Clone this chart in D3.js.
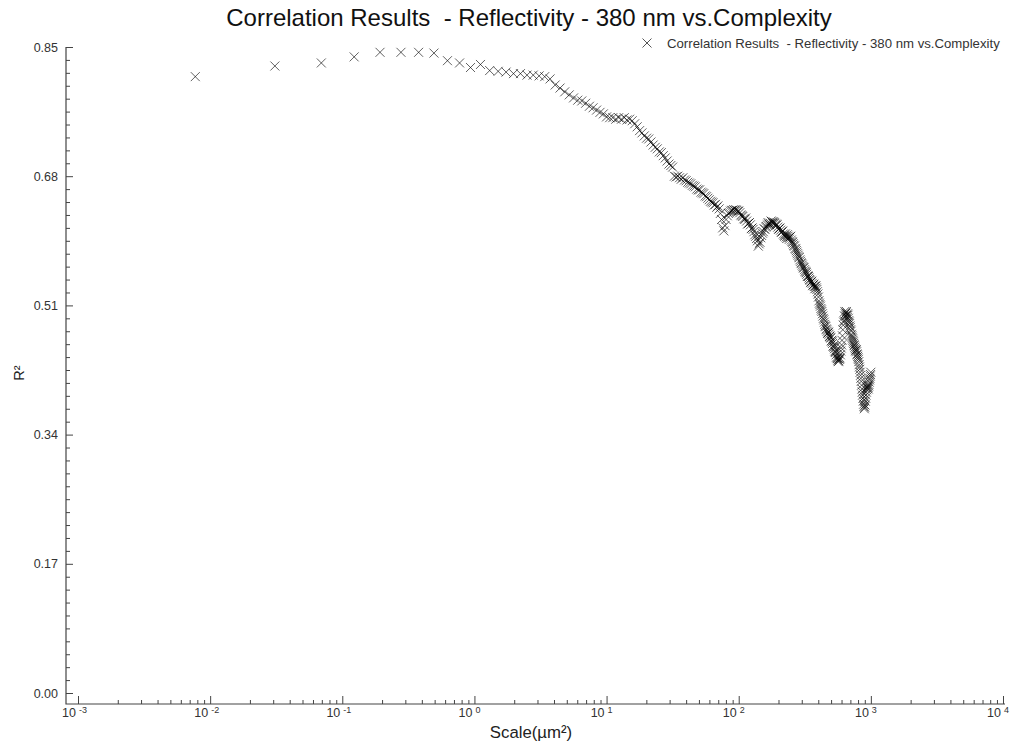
<!DOCTYPE html>
<html>
<head>
<meta charset="utf-8">
<script src="https://cdn.jsdelivr.net/npm/d3@7"></script>
<style>
  body { margin: 0; background: #fff; }
  text { font-family: "Liberation Sans", Arial, sans-serif; }
</style>
</head>
<body>
<div class="container"></div>
<script>
const chartTitle = "Correlation Results  - Reflectivity - 380 nm vs.Complexity";
const seriesName = "Correlation Results  - Reflectivity - 380 nm vs.Complexity";
const xLabel = "Scale(\u00b5m\u00b2)";
const yLabel = "R\u00b2";
const yTickValues = [0, 0.17, 0.34, 0.51, 0.68, 0.85];
const xExponents = [-3, -2, -1, 0, 1, 2, 3, 4];

// scale (µm²) of every sample
const scaleValues = [
  0.00772, 0.0309, 0.0694, 0.123, 0.193, 0.278, 0.378, 0.494, 0.625, 0.772,
  0.934, 1.111, 1.304, 1.512, 1.736, 1.975, 2.230, 2.500, 2.785, 3.086,
  3.403, 3.735, 4.082, 4.444, 4.823, 5.216, 5.625, 6.049, 6.489, 6.944,
  7.415, 7.901, 8.403, 8.920, 9.452, 10.00, 10.56, 11.14, 11.74, 12.35,
  12.97, 13.61, 14.27, 14.94, 15.63, 16.33, 17.04, 17.78, 18.53, 19.29,
  20.07, 20.86, 21.67, 22.50, 23.34, 24.20, 25.07, 25.96, 26.86, 27.78,
  28.71, 29.66, 30.63, 31.60, 32.60, 33.61, 34.64, 35.68, 36.74, 37.81,
  38.90, 40.00, 41.12, 42.25, 43.40, 44.57, 45.75, 46.94, 48.15, 49.38,
  50.63, 51.88, 53.16, 54.44, 55.75, 57.07, 58.40, 59.75, 61.12, 62.50,
  63.90, 65.31, 66.74, 68.18, 69.64, 71.11, 72.60, 74.10, 75.63, 77.16,
  78.71, 80.28, 81.86, 83.46, 85.07, 86.70, 88.34, 90.00, 91.67, 93.36,
  95.07, 96.79, 98.53, 100.3, 102.0, 103.8, 105.6, 107.4, 109.3, 111.1,
  113.0, 114.8, 116.7, 118.6, 120.6, 122.5, 124.5, 126.4, 128.4, 130.4,
  132.4, 134.4, 136.5, 138.5, 140.6, 142.7, 144.8, 146.9, 149.1, 151.2,
  153.4, 155.6, 157.8, 160.0, 162.2, 164.5, 166.7, 169.0, 171.3, 173.6,
  175.9, 178.3, 180.6, 183.0, 185.4, 187.8, 190.2, 192.6, 195.1, 197.5,
  200.0, 202.5, 205.0, 207.5, 210.1, 212.6, 215.2, 217.8, 220.4, 223.0,
  225.6, 228.3, 230.9, 233.6, 236.3, 239.0, 241.7, 244.5, 247.2, 250.0,
  252.8, 255.6, 258.4, 261.2, 264.1, 266.9, 269.8, 272.7, 275.6, 278.5,
  281.5, 284.4, 287.4, 290.4, 293.4, 296.4, 299.5, 302.5, 305.6, 308.6,
  311.7, 314.8, 318.0, 321.1, 324.3, 327.4, 330.6, 333.8, 337.0, 340.3,
  343.5, 346.8, 350.1, 353.4, 356.7, 360.0, 363.3, 366.7, 370.1, 373.5,
  376.9, 380.3, 383.7, 387.2, 390.6, 394.1, 397.6, 401.1, 404.6, 408.2,
  411.7, 415.3, 418.9, 422.5, 426.1, 429.8, 433.4, 437.1, 440.7, 444.4,
  448.2, 451.9, 455.6, 459.4, 463.2, 466.9, 470.7, 474.6, 478.4, 482.3,
  486.1, 490.0, 493.9, 497.8, 501.7, 505.7, 509.6, 513.6, 517.6, 521.6,
  525.6, 529.7, 533.7, 537.8, 541.9, 546.0, 550.1, 554.2, 558.3, 562.5,
  566.7, 570.9, 575.1, 579.3, 583.5, 587.8, 592.0, 596.3, 600.6, 604.9,
  609.3, 613.6, 618.0, 622.3, 626.7, 631.1, 635.6, 640.0, 644.4, 648.9,
  653.4, 657.9, 662.4, 667.0, 671.5, 676.0, 680.6, 685.2, 689.8, 694.4,
  699.1, 703.7, 708.4, 713.1, 717.8, 722.5, 727.2, 732.0, 736.7, 741.5,
  746.3, 751.1, 755.9, 760.8, 765.6, 770.5, 775.4, 780.3, 785.2, 790.1,
  795.1, 800.0, 805.0, 810.0, 815.0, 820.0, 825.1, 830.1, 835.2, 840.3,
  845.4, 850.5, 855.6, 860.8, 865.9, 871.1, 876.3, 881.5, 886.7, 892.0,
  897.2, 902.5, 907.8, 913.1, 918.4, 923.7, 929.1, 934.4, 939.8, 945.2,
  950.6, 956.1, 961.5, 967.0, 972.4, 977.9, 983.4, 988.9, 994.4, 1000
];

// R² of every sample
const r2Values = [
  0.811, 0.825, 0.829, 0.837, 0.843, 0.843, 0.843, 0.842, 0.832, 0.829,
  0.823, 0.827, 0.819, 0.818, 0.817, 0.815, 0.815, 0.813, 0.813, 0.812,
  0.811, 0.808, 0.800, 0.796, 0.791, 0.787, 0.783, 0.780, 0.779, 0.776,
  0.772, 0.770, 0.767, 0.764, 0.762, 0.758, 0.757, 0.757, 0.755, 0.757,
  0.755, 0.757, 0.754, 0.755, 0.753, 0.749, 0.745, 0.740, 0.737, 0.733,
  0.730, 0.729, 0.725, 0.721, 0.718, 0.716, 0.712, 0.711, 0.707, 0.704,
  0.700, 0.696, 0.694, 0.692, 0.680, 0.679, 0.680, 0.678, 0.676, 0.678,
  0.675, 0.674, 0.672, 0.671, 0.670, 0.668, 0.667, 0.666, 0.663, 0.662,
  0.662, 0.659, 0.658, 0.657, 0.654, 0.653, 0.651, 0.649, 0.647, 0.646,
  0.645, 0.642, 0.643, 0.639, 0.641, 0.637, 0.631, 0.623, 0.612, 0.608,
  0.615, 0.623, 0.628, 0.631, 0.632, 0.634, 0.635, 0.635, 0.636, 0.635,
  0.636, 0.635, 0.634, 0.634, 0.632, 0.629, 0.628, 0.627, 0.624, 0.623,
  0.625, 0.621, 0.617, 0.618, 0.619, 0.616, 0.611, 0.612, 0.610, 0.607,
  0.603, 0.601, 0.598, 0.595, 0.588, 0.591, 0.593, 0.599, 0.602, 0.605,
  0.607, 0.611, 0.610, 0.613, 0.614, 0.616, 0.619, 0.617, 0.616, 0.618,
  0.621, 0.620, 0.618, 0.620, 0.619, 0.618, 0.615, 0.617, 0.616, 0.613,
  0.610, 0.611, 0.612, 0.609, 0.606, 0.607, 0.608, 0.604, 0.602, 0.601,
  0.604, 0.600, 0.598, 0.603, 0.601, 0.599, 0.597, 0.600, 0.601, 0.596,
  0.594, 0.593, 0.591, 0.589, 0.588, 0.585, 0.584, 0.582, 0.580, 0.578,
  0.576, 0.574, 0.573, 0.570, 0.568, 0.566, 0.565, 0.563, 0.561, 0.559,
  0.560, 0.557, 0.555, 0.554, 0.553, 0.551, 0.548, 0.549, 0.548, 0.546,
  0.544, 0.543, 0.540, 0.541, 0.542, 0.539, 0.536, 0.537, 0.538, 0.535,
  0.532, 0.535, 0.536, 0.533, 0.531, 0.528, 0.525, 0.521, 0.516, 0.513,
  0.511, 0.509, 0.506, 0.504, 0.502, 0.499, 0.496, 0.493, 0.491, 0.488,
  0.485, 0.483, 0.482, 0.479, 0.478, 0.476, 0.473, 0.474, 0.475, 0.472,
  0.469, 0.470, 0.468, 0.467, 0.463, 0.464, 0.462, 0.460, 0.456, 0.457,
  0.455, 0.453, 0.450, 0.449, 0.448, 0.445, 0.442, 0.441, 0.440, 0.438,
  0.436, 0.437, 0.440, 0.439, 0.441, 0.445, 0.450, 0.454, 0.458, 0.464,
  0.470, 0.478, 0.484, 0.488, 0.490, 0.496, 0.502, 0.499, 0.496, 0.500,
  0.502, 0.497, 0.494, 0.499, 0.497, 0.493, 0.490, 0.488, 0.486, 0.483,
  0.481, 0.478, 0.476, 0.472, 0.470, 0.468, 0.466, 0.464, 0.462, 0.460,
  0.458, 0.457, 0.455, 0.453, 0.450, 0.451, 0.452, 0.449, 0.446, 0.445,
  0.443, 0.441, 0.439, 0.436, 0.432, 0.429, 0.426, 0.422, 0.418, 0.414,
  0.410, 0.405, 0.400, 0.396, 0.392, 0.388, 0.384, 0.380, 0.377, 0.374,
  0.376, 0.379, 0.384, 0.388, 0.392, 0.396, 0.399, 0.401, 0.403, 0.405,
  0.402, 0.400, 0.404, 0.406, 0.409, 0.412, 0.414, 0.417, 0.419, 0.422
];

const width = 1013, height = 744;
const plotLeft = 66, plotRight = 1005, plotTop = 47, plotBottom = 704;

const x = d3.scaleLog().domain([1e-3, 1e4]).range([78, 1003]);
const y = d3.scaleLinear().domain([0, 0.85]).range([693, 47]);

const svg = d3.select('.container')
  .append('svg')
  .attr('width', width)
  .attr('height', height);

// title
svg.append('text')
  .attr('x', 529).attr('y', 26)
  .attr('text-anchor', 'middle')
  .attr('font-size', 24)
  .attr('fill', '#111')
  .style('white-space', 'pre')
  .text(chartTitle);

// x axis: minor and major ticks pointing inward
const minorX = [];
xExponents.slice(0, -1).forEach(e => {
  for (let m = 2; m <= 9; m++) minorX.push(m * Math.pow(10, e));
});
svg.append('g')
  .attr('transform', `translate(0,${plotBottom})`)
  .call(d3.axisBottom(x).tickValues(minorX).tickSize(-4).tickFormat(''))
  .call(g => g.select('.domain').remove());
svg.append('g')
  .attr('transform', `translate(0,${plotBottom})`)
  .call(d3.axisBottom(x).tickValues(xExponents.map(e => Math.pow(10, e))).tickSize(-8).tickFormat(''))
  .call(g => g.select('.domain').remove());

const xLab = svg.append('g').attr('fill', '#333');
xExponents.forEach(e => {
  const px = x(Math.pow(10, e));
  xLab.append('text').attr('x', px - 2).attr('y', 717)
    .attr('text-anchor', 'end').attr('font-size', 12.5).text('10');
  xLab.append('text').attr('x', px + 1).attr('y', 713)
    .attr('text-anchor', 'start').attr('font-size', 9).text(e);
});

// y axis
const minorY = d3.range(0, 51).map(i => i * 0.017).filter((v, i) => i % 10 !== 0);
svg.append('g')
  .attr('transform', `translate(${plotLeft},0)`)
  .call(d3.axisLeft(y).tickValues(minorY).tickSize(-4).tickFormat(''))
  .call(g => g.select('.domain').remove());
svg.append('g')
  .attr('transform', `translate(${plotLeft},0)`)
  .call(d3.axisLeft(y).tickValues(yTickValues).tickSize(-7).tickPadding(8).tickFormat(d3.format('.2f')))
  .call(g => g.select('.domain').remove())
  .call(g => g.selectAll('text').attr('font-size', 12.5).attr('fill', '#333')
    .attr('font-family', '"Liberation Sans", Arial, sans-serif'));
svg.selectAll('.tick line').attr('stroke', '#444');

// frame lines
svg.append('path')
  .attr('d', `M${plotLeft},${plotTop}V${plotBottom}H${plotRight}`)
  .attr('fill', 'none')
  .attr('stroke', '#444')
  .attr('stroke-width', 1.2);

// axis titles
svg.append('text')
  .attr('x', 531).attr('y', 738)
  .attr('text-anchor', 'middle')
  .attr('font-size', 16.8)
  .attr('fill', '#222')
  .text(xLabel);
svg.append('text')
  .attr('transform', 'translate(24,373) rotate(-90)')
  .attr('text-anchor', 'middle')
  .attr('font-size', 14.5)
  .attr('fill', '#222')
  .text(yLabel);

// markers
const cross = 'M-4.5,-4.5L4.5,4.5M-4.5,4.5L4.5,-4.5';
const points = scaleValues.map((s, i) => ({ s: s, r: r2Values[i] }));
svg.append('g')
  .attr('fill', 'none')
  .attr('stroke', '#000')
  .attr('stroke-opacity', 0.62)
  .attr('stroke-width', 1)
  .selectAll('path')
  .data(points)
  .join('path')
  .attr('transform', d => `translate(${x(d.s)},${y(d.r)})`)
  .attr('d', cross);

// legend
const leg = svg.append('g').attr('transform', 'translate(647,43)');
leg.append('path').attr('d', cross)
  .attr('stroke', '#555').attr('stroke-width', 1).attr('fill', 'none');
leg.append('text')
  .attr('x', 20).attr('y', 4.5)
  .attr('font-size', 13.2)
  .attr('fill', '#333')
  .style('white-space', 'pre')
  .text(seriesName);
</script>
</body>
</html>
